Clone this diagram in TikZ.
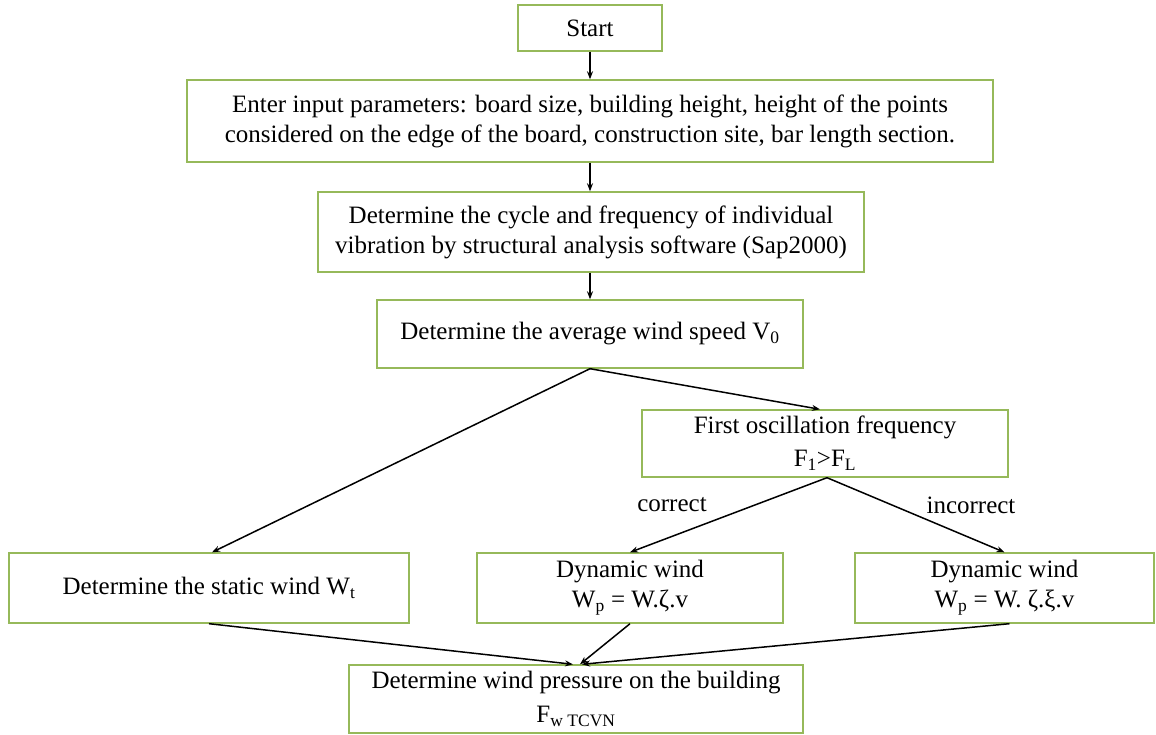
\documentclass[tikz,border=0pt]{standalone}
\usepackage{fontspec}
\setmainfont{Liberation Serif}
\usetikzlibrary{arrows.meta,calc}
\definecolor{boxgreen}{RGB}{150,185,90}
\begin{document}
\begin{tikzpicture}[x=1pt,y=-1pt,
  box/.style={draw=boxgreen,line width=1.4pt,rectangle,inner sep=0pt,align=center,
    font=\fontsize{25}{30}\selectfont},
  conn/.style={draw=black,line width=1.5pt,-{Stealth[length=8pt,width=6pt]}},
  lbl/.style={inner sep=0pt,font=\fontsize{25}{30}\selectfont}]
\useasboundingbox (0,0) rectangle (1156,735);
\node[box,minimum width=144pt,minimum height=46pt] (start) at (590,28) {Start};
\node[box,minimum width=806pt,minimum height=82pt] (input) at (590,121)
  {Enter input parameters: board size, building height, height of the points\\
   considered on the edge of the board, construction site, bar length section.};
\node[box,minimum width=546pt,minimum height=80pt] (cycle) at (591,232)
  {Determine the cycle and frequency of individual\\
   vibration by structural analysis software (Sap2000)};
\node[box,minimum width=426pt,minimum height=68pt] (speed) at (590,334)
  {Determine the average wind speed V\textsubscript{0}};
\node[box,minimum width=366pt,minimum height=67pt] (freq) at (825,443.5)
  {First oscillation frequency\\[3pt]F\textsubscript{1}>F\textsubscript{L}};
\node[box,minimum width=400pt,minimum height=70pt] (static) at (209,588)
  {Determine the static wind W\textsubscript{t}};
\node[box,minimum width=306pt,minimum height=70pt] (dyn1) at (630,588)
  {Dynamic wind\\W\textsubscript{p} = W.ζ.v};
\node[box,minimum width=299pt,minimum height=70pt] (dyn2) at (1004.5,588)
  {Dynamic wind\\W\textsubscript{p} = W. ζ.ξ.v};
\node[box,minimum width=454pt,minimum height=68pt] (press) at (576,699)
  {Determine wind pressure on the building\\[4pt]F\textsubscript{w TCVN}};
\node[lbl] (lcorrect) at (672,505) {correct};
\node[lbl] (lincorrect) at (971,505) {incorrect};
\draw[conn] (start.south) -- (input.north);
\draw[conn] (input.south) -- (cycle.north -| input.south);
\draw[conn] (cycle.south -| input.south) -- (speed.north);
\draw[conn] (speed.south) -- ($(static.north)+(3,0)$);
\draw[conn] (speed.south) -- ($(freq.north)+(-5,0)$);
\draw[conn] ($(freq.south)+(2,0)$) -- (dyn1.north);
\draw[conn] ($(freq.south)+(2,0)$) -- (dyn2.north);
\draw[conn] (static.south) -- ($(press.north)+(-3,0)$);
\draw[conn] (dyn1.south) -- ($(press.north)+(4,0)$);
\draw[conn] ($(dyn2.south)+(5,0)$) -- ($(press.north)+(6,0)$);
\end{tikzpicture}
\end{document}
